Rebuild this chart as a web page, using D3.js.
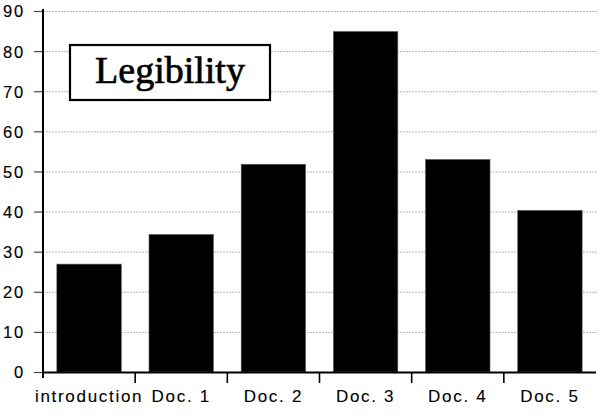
<!DOCTYPE html>
<html><head><meta charset="utf-8">
<script src="https://cdn.jsdelivr.net/npm/d3@7"></script>
<style>body{margin:0;background:#fff}</style>
</head><body>
<svg id="c" width="603" height="420"></svg>
<script>
const categories = ["introduction","Doc. 1","Doc. 2","Doc. 3","Doc. 4","Doc. 5"];
const values = [26.9, 34.3, 51.8, 84.9, 53.0, 40.3];
const yTicks = [0,10,20,30,40,50,60,70,80,90];
const legendText = "Legibility";

const svg = d3.select("#c");
const x0 = 43, x1 = 596, yTop = 11, yBot = 372;
const x = d3.scaleBand().domain(categories).range([x0, x1]).paddingInner(0.3).paddingOuter(0.15);
const y = d3.scaleLinear().domain([0, 90]).range([yBot, yTop]);

// gridlines
svg.append("g").selectAll("line").data(yTicks.filter(d => d > 0)).join("line")
  .attr("x1", x0).attr("x2", 597)
  .attr("y1", d => y(d) + 0.5).attr("y2", d => y(d) + 0.5)
  .attr("stroke", "#b8b8b8").attr("stroke-width", 1).attr("stroke-dasharray", "2,1");

// bars
svg.append("g").selectAll("rect").data(values).join("rect")
  .attr("x", (d, i) => x(categories[i]))
  .attr("width", x.bandwidth())
  .attr("y", d => y(d))
  .attr("height", d => y(0) - y(d))
  .attr("fill", "#000")
  .attr("stroke", "#666").attr("stroke-width", 0.6);

// y axis
const yAxis = svg.append("g").attr("transform", `translate(${x0},0)`)
  .call(d3.axisLeft(y).tickValues(yTicks).tickSize(9).tickPadding(9));
yAxis.select(".domain").remove();
yAxis.selectAll(".tick line").attr("stroke", "#444").attr("stroke-width", 1.2);
yAxis.selectAll("text").attr("font-family", "Liberation Sans, Arial, sans-serif")
  .attr("font-size", 16.5).attr("letter-spacing", "1.8px").attr("fill", "#000")
  .attr("stroke", "#000").attr("stroke-width", 0.15).attr("dy", "0.36em");
svg.append("line").attr("x1", x0).attr("x2", x0).attr("y1", 9).attr("y2", 378)
  .attr("stroke", "#000").attr("stroke-width", 2);

// x axis
svg.append("line").attr("x1", x0).attr("x2", x1).attr("y1", yBot + 0.5).attr("y2", yBot + 0.5)
  .attr("stroke", "#000").attr("stroke-width", 2);
const bounds = categories.slice(1).map(c => x(c) - x.step() * x.paddingInner() / 2);
svg.append("g").selectAll("line").data(bounds).join("line")
  .attr("x1", d => d).attr("x2", d => d).attr("y1", yBot).attr("y2", yBot + 11)
  .attr("stroke", "#000").attr("stroke-width", 1.6);
svg.append("g").selectAll("text").data(categories).join("text")
  .attr("x", d => x(d) + x.bandwidth() / 2).attr("y", 402)
  .attr("text-anchor", "middle")
  .attr("font-family", "Liberation Sans, Arial, sans-serif")
  .attr("font-size", 17).attr("letter-spacing", "1.7px").attr("fill", "#000")
  .attr("stroke", "#000").attr("stroke-width", 0.1)
  .text(d => d);

// legend box
const lg = svg.append("g");
lg.append("rect").attr("x", 70).attr("y", 45).attr("width", 200).attr("height", 55)
  .attr("fill", "#fff").attr("stroke", "#000").attr("stroke-width", 2.2);
lg.append("text").attr("x", 170).attr("y", 83).attr("text-anchor", "middle")
  .attr("font-family", "Liberation Serif, Times New Roman, serif")
  .attr("font-size", 38).attr("fill", "#000")
  .attr("stroke", "#000").attr("stroke-width", 0.7).text(legendText);
</script>
</body></html>
